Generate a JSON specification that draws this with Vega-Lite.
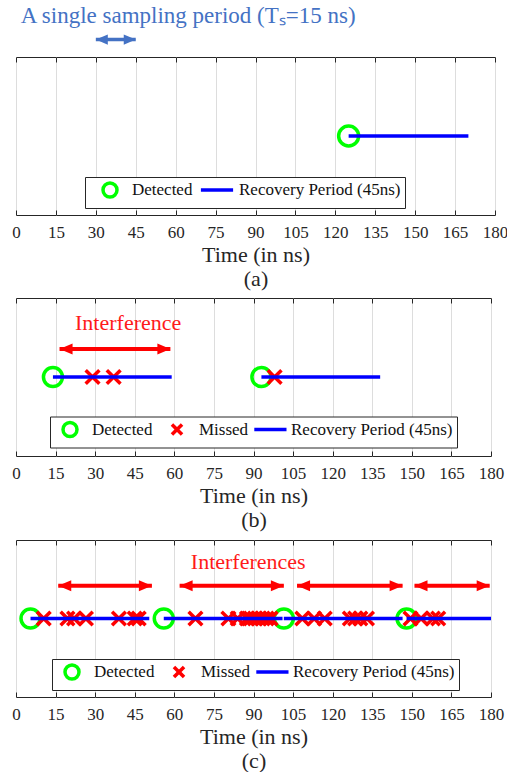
{
  "$schema": "https://vega.github.io/schema/vega-lite/v6.json",
  "background": "white",
  "padding": {"left": 10, "top": 4, "right": 0, "bottom": 0},
  "config": {
    "font": "Liberation Serif",
    "view": {"stroke": "#262626", "strokeWidth": 1},
    "axis": {
      "labelFont": "Liberation Serif", "labelFontSize": 17, "labelColor": "#262626",
      "labelFlush": false, "labelPadding": 14.5,
      "tickColor": "#262626", "tickSize": -5, "domain": false,
      "gridColor": "#dddddd", "gridWidth": 1,
      "titleFont": "Liberation Serif", "titleFontSize": 22, "titleFontWeight": "normal",
      "titleColor": "#262626", "titleLineHeight": 24, "titlePadding": 3.5
    },
    "legend": {
      "orient": "none", "direction": "horizontal",
      "labelFont": "Liberation Serif", "labelFontSize": 17, "labelColor": "#111111", "labelLimit": 400,
      "titleFont": "Liberation Serif", "titleFontSize": 17, "titleFontWeight": "normal", "titleOrient": "left",
      "strokeColor": "#262626", "fillColor": "white", "padding": 4,
      "symbolSize": 196, "symbolStrokeWidth": 3.5, "labelOffset": 13, "columnPadding": -2
    }
  },
  "datasets": {
    "a_pts": [{"t": 125, "type": "Detected"}],
    "a_rec": [{"t": 125, "t2": 170, "type": "Recovery Period (45ns)"}],
    "a_span": [{"t": 30, "t2": 45}],
    "b_pts": [
      {"t": 14, "type": "Detected"}, {"t": 93, "type": "Detected"},
      {"t": 29, "type": "Missed"}, {"t": 37, "type": "Missed"}, {"t": 98, "type": "Missed"}
    ],
    "b_rec": [
      {"t": 14, "t2": 59, "type": "Recovery Period (45ns)"},
      {"t": 93, "t2": 138, "type": "Recovery Period (45ns)"}
    ],
    "b_int": [{"t": 16.5, "t2": 58.5}],
    "b_text": [{"t": 42.5, "label": "Interference"}],
    "c_pts": [
      {"t": 5.5, "type": "Detected"}, {"t": 56, "type": "Detected"},
      {"t": 101.5, "type": "Detected"}, {"t": 148, "type": "Detected"},
      {"t": 10.5, "type": "Missed"}, {"t": 19.5, "type": "Missed"}, {"t": 22, "type": "Missed"},
      {"t": 26.5, "type": "Missed"}, {"t": 39, "type": "Missed"}, {"t": 45, "type": "Missed"},
      {"t": 46.5, "type": "Missed"}, {"t": 68, "type": "Missed"}, {"t": 80.5, "type": "Missed"},
      {"t": 84, "type": "Missed"}, {"t": 87.5, "type": "Missed"}, {"t": 89, "type": "Missed"},
      {"t": 90.5, "type": "Missed"}, {"t": 92, "type": "Missed"}, {"t": 93.5, "type": "Missed"},
      {"t": 95, "type": "Missed"}, {"t": 96.5, "type": "Missed"}, {"t": 108.5, "type": "Missed"},
      {"t": 113, "type": "Missed"}, {"t": 117, "type": "Missed"}, {"t": 126.5, "type": "Missed"},
      {"t": 128.5, "type": "Missed"}, {"t": 130.5, "type": "Missed"}, {"t": 133, "type": "Missed"},
      {"t": 149.5, "type": "Missed"}, {"t": 153.5, "type": "Missed"}, {"t": 158, "type": "Missed"},
      {"t": 160, "type": "Missed"}
    ],
    "c_rec": [
      {"t": 5.5, "t2": 50.5, "type": "Recovery Period (45ns)"},
      {"t": 56, "t2": 101, "type": "Recovery Period (45ns)"},
      {"t": 101.5, "t2": 146.5, "type": "Recovery Period (45ns)"},
      {"t": 148, "t2": 193, "type": "Recovery Period (45ns)"}
    ],
    "c_int": [
      {"t": 16, "t2": 51.5}, {"t": 62, "t2": 101.5},
      {"t": 106.5, "t2": 146.5}, {"t": 151, "t2": 179.5}
    ],
    "c_text": [{"t": 88, "label": "Interferences"}]
  },
  "spacing": 7,
  "vconcat": [
    {
      "width": 479, "height": 158,
      "title": {"text": "A single sampling period (Tₛ=15 ns)", "anchor": "start", "dx": 9, "color": "#4472c4", "fontSize": 23, "fontWeight": "normal", "font": "Liberation Serif", "offset": 7},
      "resolve": {"axis": {"x": "independent"}},
      "layer": [
        {
          "data": {"name": "a_span"},
          "mark": {"type": "rule", "color": "#4472c4", "strokeWidth": 3.5, "clip": false},
          "encoding": {
            "x": {"field": "t", "type": "quantitative", "scale": {"domain": [0, 180], "nice": false},
                  "axis": {"values": [0, 15, 30, 45, 60, 75, 90, 105, 120, 135, 150, 165, 180], "title": ["Time (in ns)", "(a)"]}},
            "x2": {"field": "t2"},
            "y": {"datum": 1.11, "type": "quantitative", "scale": {"domain": [0, 1]}, "axis": null}
          }
        },
        {
          "data": {"name": "a_span"},
          "mark": {"type": "point", "shape": "M0,0L2,-0.85L2,0.85Z", "size": 144, "filled": true, "color": "#4472c4", "opacity": 1, "strokeWidth": 0, "clip": false},
          "encoding": {
            "x": {"field": "t", "type": "quantitative", "axis": null},
            "y": {"datum": 1.11, "type": "quantitative", "axis": null}
          }
        },
        {
          "data": {"name": "a_span"},
          "mark": {"type": "point", "shape": "M0,0L-2,-0.85L-2,0.85Z", "size": 144, "filled": true, "color": "#4472c4", "opacity": 1, "strokeWidth": 0, "clip": false},
          "encoding": {
            "x": {"field": "t2", "type": "quantitative", "axis": null},
            "y": {"datum": 1.11, "type": "quantitative", "axis": null}
          }
        },
        {
          "data": {"name": "a_pts"},
          "mark": {"type": "point", "filled": false, "strokeWidth": 3.5, "size": 400, "opacity": 1},
          "encoding": {
            "x": {"field": "t", "type": "quantitative", "axis": null},
            "y": {"datum": 0.5, "type": "quantitative", "axis": null},
            "color": {"field": "type", "type": "nominal",
                      "scale": {"domain": ["Detected", "Recovery Period (45ns)"], "range": ["#00ff00", "#0000ff"]},
                      "legend": {"title": " ", "titlePadding": 12, "legendX": 69, "legendY": 120, "columnPadding": 0}},
            "shape": {"field": "type", "type": "nominal",
                      "scale": {"domain": ["Detected", "Recovery Period (45ns)"], "range": ["circle", "M0,-1M0,1M-2.3,0H2.3"]},
                      "legend": {"title": " ", "titlePadding": 12, "legendX": 69, "legendY": 120, "columnPadding": 0}}
          }
        },
        {
          "data": {"name": "a_rec"},
          "mark": {"type": "rule", "strokeWidth": 3.5},
          "encoding": {
            "x": {"field": "t", "type": "quantitative",
                  "axis": {"orient": "top", "labels": false, "title": null, "grid": false, "values": [0, 15, 30, 45, 60, 75, 90, 105, 120, 135, 150, 165, 180]}},
            "x2": {"field": "t2"},
            "y": {"datum": 0.5, "type": "quantitative", "axis": null},
            "color": {"field": "type", "type": "nominal", "legend": {"title": " ", "titlePadding": 12, "legendX": 69, "legendY": 120, "columnPadding": 0}}
          }
        }
      ]
    },
    {
      "spacing": 8,
      "vconcat": [
        {
          "width": 475, "height": 158,
          "resolve": {"axis": {"x": "independent"}},
          "layer": [
            {
              "data": {"name": "b_int"},
              "mark": {"type": "rule", "color": "#ff0000", "strokeWidth": 4, "clip": false},
              "encoding": {
                "x": {"field": "t", "type": "quantitative", "scale": {"domain": [0, 180], "nice": false},
                      "axis": {"values": [0, 15, 30, 45, 60, 75, 90, 105, 120, 135, 150, 165, 180], "title": ["Time (in ns)", "(b)"]}},
                "x2": {"field": "t2"},
                "y": {"datum": 0.677, "type": "quantitative", "scale": {"domain": [0, 1]}, "axis": null}
              }
            },
            {
              "data": {"name": "b_int"},
              "mark": {"type": "point", "shape": "M0,0L2,-0.85L2,0.85Z", "size": 169, "filled": true, "color": "#ff0000", "opacity": 1, "strokeWidth": 0},
              "encoding": {
                "x": {"field": "t", "type": "quantitative", "axis": null},
                "y": {"datum": 0.677, "type": "quantitative", "axis": null}
              }
            },
            {
              "data": {"name": "b_int"},
              "mark": {"type": "point", "shape": "M0,0L-2,-0.85L-2,0.85Z", "size": 169, "filled": true, "color": "#ff0000", "opacity": 1, "strokeWidth": 0},
              "encoding": {
                "x": {"field": "t2", "type": "quantitative", "axis": null},
                "y": {"datum": 0.677, "type": "quantitative", "axis": null}
              }
            },
            {
              "data": {"name": "b_text"},
              "mark": {"type": "text", "color": "#ff1a1a", "fontSize": 22, "font": "Liberation Serif", "align": "center", "baseline": "middle"},
              "encoding": {
                "x": {"field": "t", "type": "quantitative", "axis": null},
                "y": {"datum": 0.843, "type": "quantitative", "axis": null},
                "text": {"field": "label"}
              }
            },
            {
              "data": {"name": "b_pts"},
              "mark": {"type": "point", "filled": false, "strokeWidth": 3.5, "size": 361, "opacity": 1},
              "encoding": {
                "x": {"field": "t", "type": "quantitative", "axis": null},
                "y": {"datum": 0.5, "type": "quantitative", "axis": null},
                "color": {"field": "type", "type": "nominal",
                          "scale": {"domain": ["Detected", "Missed", "Recovery Period (45ns)"], "range": ["#00ff00", "#ff0000", "#0000ff"]},
                          "legend": {"title": " ", "titlePadding": 7, "legendX": 34, "legendY": 118.5}},
                "shape": {"field": "type", "type": "nominal",
                          "scale": {"domain": ["Detected", "Missed", "Recovery Period (45ns)"], "range": ["circle", "M-2.7,0M0,-1M0,1M-0.72,-0.72L0.72,0.72M-0.72,0.72L0.72,-0.72", "M0,-1M0,1M-2.1,0H2.5"]},
                          "legend": {"title": " ", "titlePadding": 7, "legendX": 34, "legendY": 118.5}}
              }
            },
            {
              "data": {"name": "b_rec"},
              "mark": {"type": "rule", "strokeWidth": 3.5},
              "encoding": {
                "x": {"field": "t", "type": "quantitative",
                      "axis": {"orient": "top", "labels": false, "title": null, "grid": false, "values": [0, 15, 30, 45, 60, 75, 90, 105, 120, 135, 150, 165, 180]}},
                "x2": {"field": "t2"},
                "y": {"datum": 0.5, "type": "quantitative", "axis": null},
                "color": {"field": "type", "type": "nominal", "legend": {"title": " ", "titlePadding": 7, "legendX": 34, "legendY": 118.5}}
              }
            }
          ]
        },
        {
          "width": 475, "height": 157,
          "resolve": {"axis": {"x": "independent"}},
          "layer": [
            {
              "data": {"name": "c_int"},
              "mark": {"type": "rule", "color": "#ff0000", "strokeWidth": 4, "clip": false},
              "encoding": {
                "x": {"field": "t", "type": "quantitative", "scale": {"domain": [0, 180], "nice": false},
                      "axis": {"values": [0, 15, 30, 45, 60, 75, 90, 105, 120, 135, 150, 165, 180], "title": ["Time (in ns)", "(c)"]}},
                "x2": {"field": "t2"},
                "y": {"datum": 0.709, "type": "quantitative", "scale": {"domain": [0, 1]}, "axis": null}
              }
            },
            {
              "data": {"name": "c_int"},
              "mark": {"type": "point", "shape": "M0,0L2,-0.85L2,0.85Z", "size": 169, "filled": true, "color": "#ff0000", "opacity": 1, "strokeWidth": 0},
              "encoding": {
                "x": {"field": "t", "type": "quantitative", "axis": null},
                "y": {"datum": 0.709, "type": "quantitative", "axis": null}
              }
            },
            {
              "data": {"name": "c_int"},
              "mark": {"type": "point", "shape": "M0,0L-2,-0.85L-2,0.85Z", "size": 169, "filled": true, "color": "#ff0000", "opacity": 1, "strokeWidth": 0},
              "encoding": {
                "x": {"field": "t2", "type": "quantitative", "axis": null},
                "y": {"datum": 0.709, "type": "quantitative", "axis": null}
              }
            },
            {
              "data": {"name": "c_text"},
              "mark": {"type": "text", "color": "#ff1a1a", "fontSize": 22, "font": "Liberation Serif", "align": "center", "baseline": "middle"},
              "encoding": {
                "x": {"field": "t", "type": "quantitative", "axis": null},
                "y": {"datum": 0.858, "type": "quantitative", "axis": null},
                "text": {"field": "label"}
              }
            },
            {
              "data": {"name": "c_pts"},
              "mark": {"type": "point", "filled": false, "strokeWidth": 3.5, "size": 361, "opacity": 1},
              "encoding": {
                "x": {"field": "t", "type": "quantitative", "axis": null},
                "y": {"datum": 0.5, "type": "quantitative", "axis": null},
                "color": {"field": "type", "type": "nominal",
                          "scale": {"domain": ["Detected", "Missed", "Recovery Period (45ns)"], "range": ["#00ff00", "#ff0000", "#0000ff"]},
                          "legend": {"title": " ", "titlePadding": 7, "legendX": 36, "legendY": 119}},
                "shape": {"field": "type", "type": "nominal",
                          "scale": {"domain": ["Detected", "Missed", "Recovery Period (45ns)"], "range": ["circle", "M-2.7,0M0,-1M0,1M-0.72,-0.72L0.72,0.72M-0.72,0.72L0.72,-0.72", "M0,-1M0,1M-2.1,0H2.5"]},
                          "legend": {"title": " ", "titlePadding": 7, "legendX": 36, "legendY": 119}}
              }
            },
            {
              "data": {"name": "c_rec"},
              "mark": {"type": "rule", "strokeWidth": 3.5, "clip": true},
              "encoding": {
                "x": {"field": "t", "type": "quantitative",
                      "axis": {"orient": "top", "labels": false, "title": null, "grid": false, "values": [0, 15, 30, 45, 60, 75, 90, 105, 120, 135, 150, 165, 180]}},
                "x2": {"field": "t2"},
                "y": {"datum": 0.5, "type": "quantitative", "axis": null},
                "color": {"field": "type", "type": "nominal", "legend": {"title": " ", "titlePadding": 7, "legendX": 36, "legendY": 119}}
              }
            }
          ]
        }
      ],
      "resolve": {
        "scale": {"color": "independent", "shape": "independent"},
        "legend": {"color": "independent", "shape": "independent"}
      }
    }
  ],
  "resolve": {
    "scale": {"color": "independent", "shape": "independent"},
    "legend": {"color": "independent", "shape": "independent"}
  }
}
